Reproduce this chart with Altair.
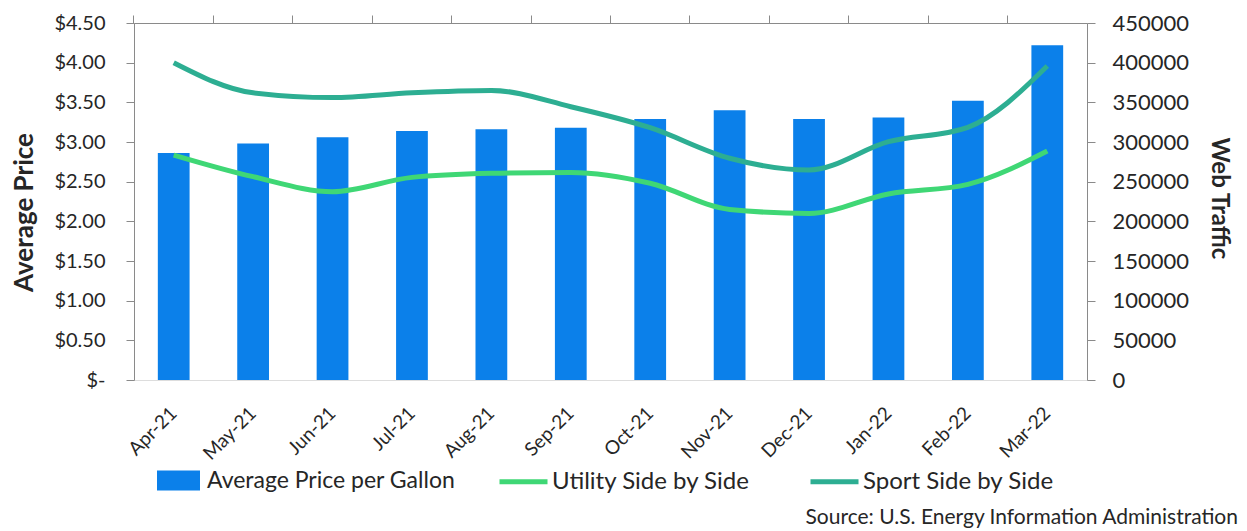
import altair as alt
import pandas as pd

MONTHS = ["Apr-21", "May-21", "Jun-21", "Jul-21", "Aug-21", "Sep-21",
          "Oct-21", "Nov-21", "Dec-21", "Jan-22", "Feb-22", "Mar-22"]
PRICE = [2.86, 2.98, 3.06, 3.14, 3.16, 3.18, 3.29, 3.40, 3.29, 3.31, 3.52, 4.22]
UTILITY = [283600, 256300, 237400, 255400, 260500, 261700,
           248000, 215000, 210000, 234500, 246600, 288700]
SPORT = [400000, 362000, 356000, 362000, 365000, 344500,
         318000, 279500, 264700, 300400, 318500, 395800]
LEFT_TICKS = [0, 0.5, 1.0, 1.5, 2.0, 2.5, 3.0, 3.5, 4.0, 4.5]
RIGHT_TICKS = [0, 50000, 100000, 150000, 200000, 250000, 300000, 350000, 400000, 450000]
SERIES = ["Average Price per Gallon", "Utility Side by Side", "Sport Side by Side"]
SOURCE = "Source: U.S. Energy Information Administration"

BLUE = "#0B80EA"
GREEN = "#3FD775"
TEAL = "#2DAE92"
FONT = "Lato"
TXT = "#262626"
AXC = "#8a8a8a"

bars_df = pd.DataFrame({"month": MONTHS, "price": PRICE, "series": SERIES[0]})
lines_df = pd.DataFrame({
    "month": MONTHS * 2,
    "traffic": UTILITY + SPORT,
    "series": [SERIES[1]] * len(MONTHS) + [SERIES[2]] * len(MONTHS),
})
src_df = pd.DataFrame({"t": [SOURCE]})

x_scale = alt.Scale(domain=MONTHS, paddingInner=0.6, paddingOuter=0.3)

bars = alt.Chart(bars_df).mark_bar().encode(
    x=alt.X("month:N", sort=MONTHS, scale=x_scale,
            axis=alt.Axis(title=None, labelAngle=-45, labelAlign="right",
                          labelBaseline="middle", ticks=False, tickSize=0,
                          domain=False, labelPadding=30, labelFontSize=19,
                          labelFont=FONT, labelColor=TXT)),
    y=alt.Y("price:Q", scale=alt.Scale(domain=[0, 4.5], nice=False, zero=True),
            axis=alt.Axis(title="Average Price", values=LEFT_TICKS,
                          labelExpr="datum.value == 0 ? '$-' : '$' + format(datum.value, '.2f')",
                          labelFontSize=20, labelFont=FONT, labelColor=TXT,
                          labelPadding=21, tickSize=8, tickColor=AXC,
                          domainColor=AXC, grid=False,
                          titleFont=FONT, titleFontSize=26, titleFontWeight="bold",
                          titleColor=TXT, titlePadding=16, titleY=189)),
    fill=alt.Fill("series:N", scale=alt.Scale(domain=[SERIES[0]], range=[BLUE]),
                  legend=alt.Legend(title=None, orient="none", legendX=23, legendY=436,
                                    symbolType="M-1,-0.46L1,-0.46L1,0.46L-1,0.46Z",
                                    symbolSize=1849, symbolStrokeWidth=0,
                                    labelFont=FONT, labelFontSize=23, labelColor=TXT,
                                    labelOffset=7, labelLimit=0, padding=0)),
)

lines = alt.Chart(lines_df).mark_line(strokeWidth=5, interpolate="monotone").encode(
    x=alt.X("month:N", sort=MONTHS, scale=x_scale,
            axis=alt.Axis(title=None, labels=False, ticks=True, tickSize=8,
                          bandPosition=-0.75, tickColor=AXC, domainColor=AXC)),
    y=alt.Y("traffic:Q", scale=alt.Scale(domain=[0, 450000], nice=False),
            axis=alt.Axis(title="Web Traffic", orient="right", values=RIGHT_TICKS,
                          format="d", labelFontSize=22, labelFont=FONT, labelColor=TXT,
                          labelPadding=17, tickSize=8, tickColor=AXC,
                          domainColor=AXC, grid=False,
                          titleFont=FONT, titleFontSize=24, titleFontWeight="bold",
                          titleColor=TXT, titlePadding=18, titleY=175)),
    stroke=alt.Stroke("series:N", scale=alt.Scale(domain=SERIES[1:], range=[GREEN, TEAL]),
                      legend=alt.Legend(title=None, orient="none", legendX=363, legendY=432,
                                        direction="horizontal", symbolType="stroke",
                                        symbolSize=2304, symbolStrokeWidth=5,
                                        labelFont=FONT, labelFontSize=24, labelColor=TXT,
                                        labelOffset=2, labelLimit=0, columnPadding=49,
                                        padding=0)),
    detail="series:N",
)

source = alt.Chart(src_df).mark_text(align="right", baseline="middle", fontSize=21,
                                     font=FONT, color=TXT).encode(
    text="t:N", x=alt.value(1104), y=alt.value(495))

chart = alt.layer(bars, lines, source).resolve_scale(
    y="independent"
).resolve_axis(
    x="independent"
).properties(
    width=953, height=357,
    autosize=alt.AutoSizeParams(type="none"),
    padding={"left": 134, "top": 23, "right": 160, "bottom": 151},
).configure_view(stroke=None).configure(background="white")

chart.save("out.html", embed_options={"renderer": "svg", "actions": False})
